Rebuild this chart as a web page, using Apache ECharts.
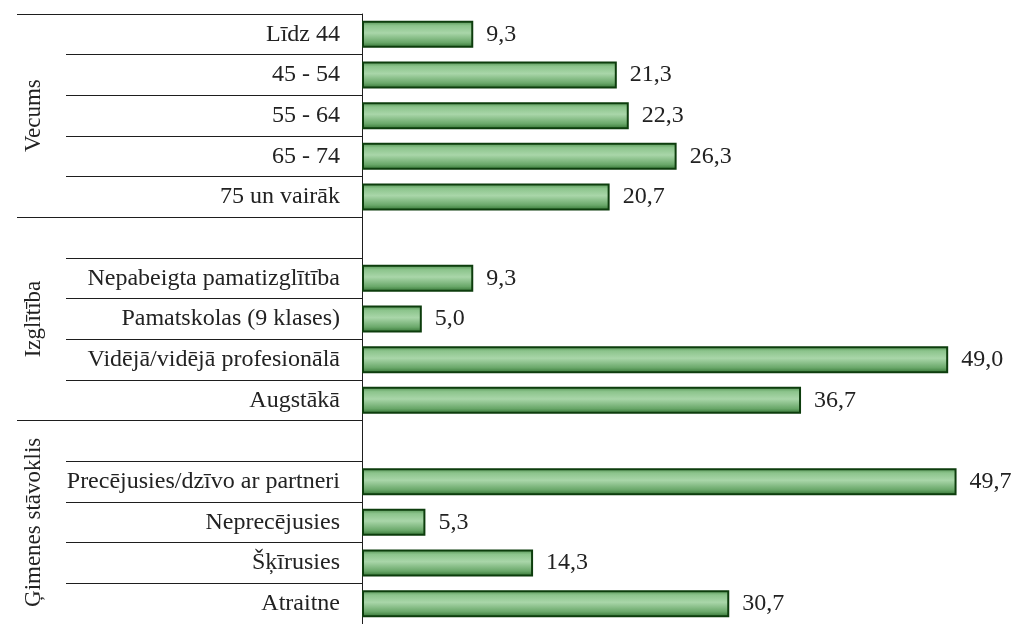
<!DOCTYPE html>
<html>
<head>
<meta charset="utf-8">
<script src="https://cdn.jsdelivr.net/npm/echarts@6/dist/echarts.min.js"></script>
<style>
    html, body { margin: 0; padding: 0; background: #fff; }
    #main { width: 1016px; height: 624px; }
</style>
</head>
<body>
<div id="main"></div>
<script>
// groups (each group takes 5 rows, a blank row leads the 2nd and 3rd)
var groups = ['Vecums', 'Izglītība', 'Ģimenes stāvoklis'];
var categories = [
    'Līdz 44', '45 - 54', '55 - 64', '65 - 74', '75 un vairāk',
    '', 'Nepabeigta pamatizglītība', 'Pamatskolas (9 klases)', 'Vidējā/vidējā profesionālā', 'Augstākā',
    '', 'Precējusies/dzīvo ar partneri', 'Neprecējusies', 'Šķīrusies', 'Atraitne'
];
var values = [
    9.3, 21.3, 22.3, 26.3, 20.7,
    null, 9.3, 5.0, 49.0, 36.7,
    null, 49.7, 5.3, 14.3, 30.7
];

var fontFam = '"Liberation Serif", "Times New Roman", serif';
var lineColor = '#1e1e1e';

var myChart = echarts.init(document.getElementById('main'));
var option = {
    backgroundColor: '#ffffff',
    animation: false,
    grid: {
        left: 362,
        top: 14,
        width: 646,
        height: 615
    },
    xAxis: {
        type: 'value',
        min: 0,
        max: 54,
        show: false
    },
    yAxis: [
        {
            type: 'category',
            data: categories,
            inverse: true,
            position: 'left',
            axisLine: { show: true, lineStyle: { color: lineColor, width: 1 } },
            axisTick: { show: true, interval: 0, length: 296, lineStyle: { color: lineColor, width: 1 } },
            axisLabel: {
                interval: 0,
                margin: 22,
                color: '#222',
                fontFamily: fontFam,
                fontSize: 24
            }
        },
        {
            type: 'category',
            data: groups,
            inverse: true,
            position: 'left',
            axisLine: { show: false },
            axisTick: { show: true, interval: 0, length: 345, lineStyle: { color: lineColor, width: 1 } },
            axisLabel: {
                interval: 0,
                rotate: 90,
                margin: 317,
                color: '#222',
                fontFamily: fontFam,
                fontSize: 23
            }
        }
    ],
    series: [
        {
            type: 'bar',
            yAxisIndex: 0,
            data: values,
            barWidth: 27,
            itemStyle: {
                borderColor: '#0d3d0d',
                borderWidth: 2,
                color: new echarts.graphic.LinearGradient(0, 0, 0, 1, [
                    { offset: 0, color: '#4f8f4f' },
                    { offset: 0.18, color: '#8cc48c' },
                    { offset: 0.45, color: '#a9d6a9' },
                    { offset: 0.8, color: '#6aa86a' },
                    { offset: 1, color: '#2f6f2f' }
                ])
            },
            label: {
                show: true,
                position: 'right',
                distance: 13,
                color: '#222',
                fontFamily: fontFam,
                fontSize: 24,
                formatter: function (p) {
                    return p.value.toFixed(1).replace('.', ',');
                }
            }
        }
    ]
};
myChart.setOption(option);
</script>
</body>
</html>
